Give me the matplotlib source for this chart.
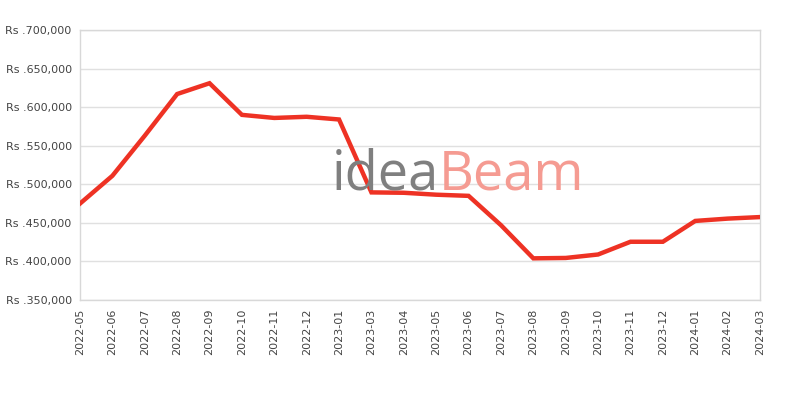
import matplotlib
matplotlib.use("Agg")
import matplotlib.pyplot as plt
from matplotlib.ticker import FuncFormatter

months = ["2022-05", "2022-06", "2022-07", "2022-08", "2022-09", "2022-10",
          "2022-11", "2022-12", "2023-01", "2023-03", "2023-04", "2023-05",
          "2023-06", "2023-07", "2023-08", "2023-09", "2023-10", "2023-11",
          "2023-12", "2024-01", "2024-02", "2024-03"]
prices = [475000, 511000, 563000, 617000, 631000, 590000,
          586000, 587500, 584000, 489500, 489000, 486500,
          485000, 447000, 404000, 404500, 409000, 425500,
          425500, 452500, 455500, 457500]
y_ticks = [350000, 400000, 450000, 500000, 550000, 600000, 650000, 700000]

fig = plt.figure(figsize=(8, 4), dpi=100)
ax = fig.add_axes([0.1, 0.25, 0.85, 0.675])

# watermark
fig.text(0.415, 0.525, "idea", color="#7f7f7f", fontsize=39, family="Open Sans",
         ha="left", va="baseline", zorder=0)
fig.text(0.548, 0.525, "Beam", color="#f59b92", fontsize=39, family="Open Sans",
         ha="left", va="baseline", zorder=0)

x = list(range(len(months)))
ax.plot(x, prices, color="#ee3224", linewidth=3.2, solid_joinstyle="miter", zorder=3)

ax.set_xlim(0, len(months) - 1)
ax.set_ylim(350000, 700000)
ax.set_xticks(x)
ax.set_xticklabels(months, rotation=90)
ax.set_yticks(y_ticks)
ax.yaxis.set_major_formatter(FuncFormatter(lambda v, p: "Rs .{:,.0f}".format(v)))
ax.tick_params(axis="both", length=0, labelsize=8, colors="#444444", pad=6)
ax.grid(axis="y", color="#e0e0e0", linewidth=1)
ax.set_axisbelow(True)
ax.patch.set_alpha(0)
for s in ax.spines.values():
    s.set_color("#d8d8d8")
    s.set_linewidth(1)

fig.savefig("out.png", dpi=100)
